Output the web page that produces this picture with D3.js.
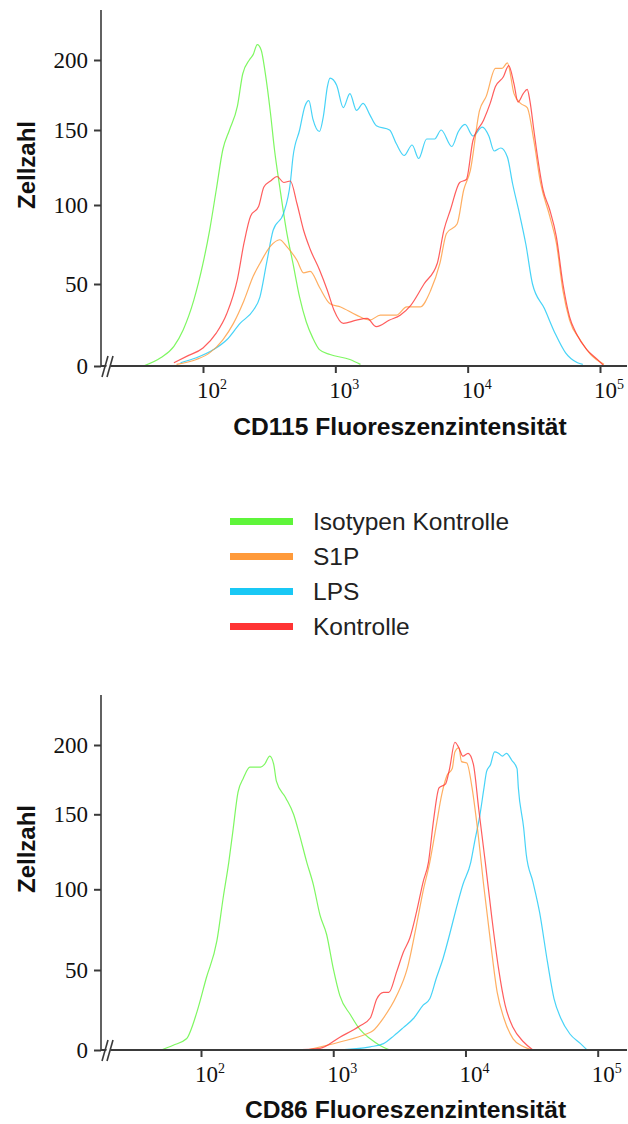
<!DOCTYPE html>
<html>
<head>
<meta charset="utf-8">
<script src="https://cdn.jsdelivr.net/npm/d3@7/dist/d3.min.js"></script>
<style>
  html, body { margin: 0; padding: 0; background: #fff; }
  svg { display: block; }
</style>
</head>
<body>
<svg id="chart" width="628" height="1124"></svg>
<script>
// Histogram series: [log10 fluorescence intensity, cell count]
const cd115Isotype = [[1.55,0],[1.68,5],[1.78,12],[1.85,22],[1.93,40],[2.0,63],[2.05,84],[2.10,110],[2.15,137],[2.20,150],[2.26,167],[2.30,190],[2.35,200],[2.38,204],[2.41,211],[2.44,207],[2.47,191],[2.51,162],[2.54,137],[2.58,112],[2.63,84],[2.68,63],[2.73,42],[2.78,27],[2.83,17],[2.88,10],[2.96,7],[3.11,4],[3.19,1]];
const cd115S1P = [[1.80,1],[1.95,4],[2.05,8],[2.15,16],[2.23,26],[2.31,40],[2.38,55],[2.43,63],[2.51,74],[2.58,78],[2.63,74],[2.71,65],[2.76,57],[2.81,58],[2.88,48],[2.96,38],[3.04,36],[3.16,31],[3.26,28],[3.34,31],[3.46,31],[3.54,36],[3.64,36],[3.72,46],[3.79,63],[3.84,82],[3.92,88],[3.97,110],[4.02,123],[4.09,164],[4.14,174],[4.21,194],[4.26,194],[4.30,198],[4.35,176],[4.40,169],[4.45,166],[4.50,143],[4.55,115],[4.62,93],[4.67,76],[4.72,46],[4.77,28],[4.85,16],[4.93,7],[5.03,1]];
const cd115LPS = [[1.83,2],[1.95,5],[2.08,10],[2.18,16],[2.28,26],[2.38,34],[2.43,42],[2.48,63],[2.53,84],[2.61,95],[2.66,115],[2.68,132],[2.73,150],[2.77,167],[2.80,171],[2.83,158],[2.88,149],[2.91,160],[2.94,181],[2.96,187],[3.01,182],[3.06,166],[3.11,176],[3.16,164],[3.21,169],[3.26,161],[3.31,153],[3.41,150],[3.46,141],[3.52,133],[3.58,140],[3.63,131],[3.69,144],[3.75,144],[3.80,150],[3.88,139],[3.93,149],[3.98,154],[4.04,146],[4.11,152],[4.16,146],[4.20,136],[4.25,138],[4.30,132],[4.34,114],[4.39,95],[4.44,75],[4.49,50],[4.58,35],[4.66,20],[4.74,8],[4.83,2],[4.87,1]];
const cd115Kontrolle = [[1.78,2],[1.88,6],[2.0,11],[2.10,20],[2.18,32],[2.26,53],[2.31,76],[2.36,93],[2.42,99],[2.46,112],[2.51,116],[2.56,119],[2.61,115],[2.66,116],[2.71,101],[2.76,84],[2.81,72],[2.88,59],[2.94,46],[2.99,34],[3.06,26],[3.16,28],[3.24,29],[3.31,24],[3.41,28],[3.49,31],[3.57,37],[3.67,50],[3.77,63],[3.82,84],[3.87,97],[3.94,115],[3.99,117],[4.04,143],[4.12,157],[4.17,169],[4.21,181],[4.27,188],[4.31,196],[4.35,183],[4.38,170],[4.42,176],[4.45,179],[4.47,171],[4.50,150],[4.52,137],[4.57,110],[4.62,97],[4.67,80],[4.72,50],[4.77,30],[4.82,20],[4.90,10],[4.98,4],[5.03,0]];

const cd86Isotype = [[1.70,0],[1.79,3],[1.89,7],[1.97,24],[2.04,45],[2.12,68],[2.17,96],[2.21,118],[2.24,138],[2.28,166],[2.32,176],[2.37,184],[2.45,184],[2.48,186],[2.52,192],[2.55,186],[2.57,174],[2.64,162],[2.70,150],[2.74,138],[2.80,118],[2.85,103],[2.90,84],[2.95,72],[3.0,51],[3.05,34],[3.13,22],[3.20,13],[3.28,7],[3.35,3],[3.43,0]];
const cd86S1P = [[2.80,0],[3.05,5],[3.25,10],[3.30,12],[3.38,20],[3.48,34],[3.56,51],[3.63,78],[3.68,99],[3.73,118],[3.78,143],[3.82,164],[3.86,178],[3.90,183],[3.92,195],[3.95,198],[3.97,188],[4.01,187],[4.05,169],[4.09,141],[4.14,101],[4.19,67],[4.24,36],[4.29,20],[4.36,7],[4.44,2],[4.51,0]];
const cd86LPS = [[3.03,0],[3.28,2],[3.38,4],[3.46,9],[3.53,14],[3.61,20],[3.68,28],[3.73,32],[3.78,45],[3.83,57],[3.88,72],[3.93,88],[3.98,103],[4.04,118],[4.07,132],[4.11,150],[4.14,169],[4.16,181],[4.19,186],[4.22,195],[4.25,194],[4.28,192],[4.31,194],[4.35,189],[4.39,183],[4.40,169],[4.44,141],[4.46,123],[4.51,105],[4.56,86],[4.62,55],[4.67,32],[4.72,20],[4.79,10],[4.87,4],[4.92,0]];
const cd86Kontrolle = [[2.70,0],[2.90,1],[3.05,8],[3.20,15],[3.28,20],[3.33,32],[3.38,36],[3.42,36],[3.48,49],[3.53,61],[3.58,70],[3.63,86],[3.68,105],[3.72,118],[3.76,147],[3.80,169],[3.85,172],[3.88,183],[3.92,202],[3.95,198],[3.98,192],[4.02,194],[4.06,186],[4.10,154],[4.15,118],[4.20,82],[4.25,51],[4.30,28],[4.36,14],[4.44,5],[4.51,0]];

// Legend entries and tick values
const seriesNames = ["Isotypen Kontrolle", "S1P", "LPS", "Kontrolle"];
const seriesColors = ["#5ef53a", "#ff9a3a", "#19c8f5", "#ff3434"];
const xTickValues = [100, 1000, 10000, 100000];
const xTickExponents = ["2", "3", "4", "5"];
const yTickValues = [0, 50, 100, 150, 200];

const svg = d3.select("#chart");
const axisColor = "#3a3a3a";

function drawPanel(p) {
  const g = svg.append("g");
  const x = d3.scaleLog().domain([100, 100000]).range(p.xRange);
  const y = d3.scaleLinear().domain(yTickValues).range(p.yRange);
  const y0 = y(0);

  // curves (drawn first so the axis sits above them)
  const line = d3.line()
    .x(d => x(Math.pow(10, d[0])))
    .y(d => y(d[1]))
    .curve(d3.curveMonotoneX);
  const order = [0, 2, 1, 3];
  order.forEach(i => {
    g.append("path")
      .datum(p.series[i])
      .attr("d", line)
      .attr("fill", "none")
      .attr("stroke", seriesColors[i])
      .attr("stroke-width", 1.2)
      .attr("stroke-opacity", 0.8)
      .attr("stroke-linejoin", "round");
  });

  // x axis
  const xAxis = d3.axisBottom(x).tickValues(xTickValues).tickSize(7).tickFormat("");
  const xg = g.append("g").attr("transform", `translate(0,${y0})`).call(xAxis);
  xg.select(".domain").remove();
  xg.selectAll(".tick line").attr("stroke", axisColor).attr("stroke-width", 2);
  g.append("line")
    .attr("x1", p.axisX).attr("x2", 627)
    .attr("y1", y0).attr("y2", y0)
    .attr("stroke", axisColor).attr("stroke-width", 2);

  const labels = g.selectAll(".xlab").data(xTickValues).enter().append("text")
    .attr("class", "xlab")
    .attr("x", d => x(d) - 6)
    .attr("y", y0 + 32)
    .attr("font-family", "'Liberation Serif', 'Times New Roman', serif")
    .attr("font-size", 23)
    .attr("fill", "#111");
  labels.append("tspan").text("10");
  labels.append("tspan")
    .attr("font-size", 14)
    .attr("dy", -9)
    .text((d, i) => xTickExponents[i]);

  // y axis
  const yAxis = d3.axisLeft(y).tickValues(yTickValues).tickSize(7).tickFormat("");
  const yg = g.append("g").attr("transform", `translate(${p.axisX},0)`).call(yAxis);
  yg.select(".domain").remove();
  yg.selectAll(".tick line").attr("stroke", axisColor).attr("stroke-width", 2);
  g.append("line")
    .attr("x1", p.axisX).attr("x2", p.axisX)
    .attr("y1", p.axisTop).attr("y2", y0)
    .attr("stroke", axisColor).attr("stroke-width", 1.6);
  g.selectAll(".ylab").data(yTickValues).enter().append("text")
    .attr("x", p.axisX - 13)
    .attr("y", d => y(d))
    .attr("dy", "0.34em")
    .attr("text-anchor", "end")
    .attr("font-family", "'Liberation Serif', 'Times New Roman', serif")
    .attr("font-size", 23)
    .attr("fill", "#111")
    .text(d => d);

  // axis break marks
  const bx = p.axisX + 7;
  g.append("polygon")
    .attr("points", `${bx - 4},${y0 + 10} ${bx + 1},${y0 - 10} ${bx + 5},${y0 - 10} ${bx},${y0 + 10}`)
    .attr("fill", "#fff");
  [-3, 2].forEach(off => {
    g.append("line")
      .attr("x1", bx + off - 3).attr("y1", y0 + 11)
      .attr("x2", bx + off + 3).attr("y2", y0 - 10)
      .attr("stroke", axisColor).attr("stroke-width", 1.6);
  });

  // axis titles
  g.append("text")
    .attr("x", p.titleX).attr("y", p.titleY)
    .attr("text-anchor", "middle")
    .attr("font-family", "'Liberation Sans', Arial, sans-serif")
    .attr("font-weight", "bold")
    .attr("font-size", 24.6)
    .attr("fill", "#111")
    .text(p.title);
  g.append("text")
    .attr("transform", `translate(35,${p.yTitleY}) rotate(-90)`)
    .attr("text-anchor", "middle")
    .attr("font-family", "'Liberation Sans', Arial, sans-serif")
    .attr("font-weight", "bold")
    .attr("font-size", 24)
    .attr("fill", "#111")
    .text("Zellzahl");
}

drawPanel({
  series: [cd115Isotype, cd115S1P, cd115LPS, cd115Kontrolle],
  xRange: [203, 600],
  yRange: [366, 284, 205, 130, 60],
  axisX: 101,
  axisTop: 10,
  title: "CD115 Fluoreszenzintensität",
  titleX: 400, titleY: 435,
  yTitleY: 165
});

drawPanel({
  series: [cd86Isotype, cd86S1P, cd86LPS, cd86Kontrolle],
  xRange: [201, 597.7],
  yRange: [1050, 970, 889.3, 814.3, 745],
  axisX: 101,
  axisTop: 695,
  title: "CD86 Fluoreszenzintensität",
  titleX: 405.5, titleY: 1118,
  yTitleY: 849
});

// legend
const legend = svg.append("g");
const legendY = d3.scaleLinear().domain([0, 3]).range([521.5, 626.5]);
seriesNames.forEach((name, i) => {
  legend.append("line")
    .attr("x1", 230).attr("x2", 293)
    .attr("y1", legendY(i)).attr("y2", legendY(i))
    .attr("stroke", seriesColors[i])
    .attr("stroke-width", 7);
  legend.append("text")
    .attr("x", 313).attr("y", legendY(i))
    .attr("dy", "0.36em")
    .attr("font-family", "'Liberation Sans', Arial, sans-serif")
    .attr("font-size", 24.5)
    .attr("fill", "#222")
    .text(name);
});
</script>
</body>
</html>
